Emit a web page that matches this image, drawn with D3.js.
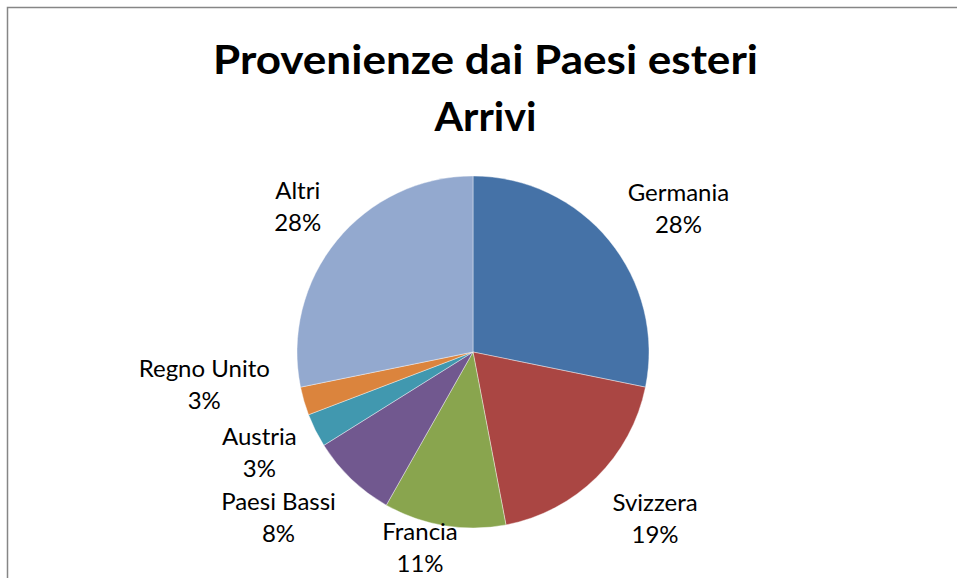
<!DOCTYPE html>
<html>
<head>
<meta charset="utf-8">
<script src="https://cdn.jsdelivr.net/npm/d3@7"></script>
<style>
  html, body { margin: 0; padding: 0; background: #fff; }
  svg { display: block; }
</style>
</head>
<body>
<svg id="chart" width="957" height="578"></svg>
<script>
// ---- data ----
const titleLines = ["Provenienze dai Paesi esteri", "Arrivi"];
const categories = ["Germania", "Svizzera", "Francia", "Paesi Bassi", "Austria", "Regno Unito", "Altri"];
const values = [28.2, 18.8, 11.2, 7.9, 3.1, 2.6, 28.2];
const percentLabels = ["28%", "19%", "11%", "8%", "3%", "3%", "28%"];

// ---- layout / style ----
const colors = ["#4572A7", "#AA4643", "#89A54E", "#71588F", "#4198AF", "#DB843D", "#93A9CF"];
const W = 957, H = 578;
const cx = 473, cy = 352, R = 176;
const labelGap = 32;          // distance of label anchor beyond pie edge
const lineGap = 32;           // line spacing of the two-line labels
const capH = 16.5;            // approx cap height of label font
// Excel "best fit" nudges for labels pushed away by neighbours / chart edge
const labelNudge = [[5, 4], [6, 1], [-13, -33], [-11, -2], [6, -3], [-6, -32], [4, 2]];
const titleWidths = [545, 102];

const svg = d3.select("#chart");

// chart area frame
svg.append("rect")
  .attr("x", 7.5).attr("y", 7.5)
  .attr("width", 970).attr("height", 620)
  .attr("fill", "#fff")
  .attr("stroke", "#868686").attr("stroke-width", 1.5);

// title
const title = svg.append("text")
  .attr("text-anchor", "middle")
  .attr("font-family", "Lato, 'Open Sans', sans-serif")
  .attr("font-weight", "bold")
  .attr("font-size", 41)
  .attr("fill", "#000");
const titleY = [74, 131];
titleLines.forEach((t, i) => {
  title.append("tspan").attr("x", 485.5).attr("y", titleY[i])
    .attr("textLength", titleWidths[i]).attr("lengthAdjust", "spacingAndGlyphs")
    .text(t);
});

// pie
const pie = d3.pie().sort(null).value(d => d.v)
  .startAngle(0).endAngle(2 * Math.PI);
const data = categories.map((c, i) => ({ c, v: values[i], p: percentLabels[i], col: colors[i] }));
const arcs = pie(data);
const arc = d3.arc().innerRadius(0).outerRadius(R);

const g = svg.append("g").attr("transform", `translate(${cx},${cy})`);
g.selectAll("path").data(arcs).enter().append("path")
  .attr("d", arc)
  .attr("fill", d => d.data.col)
  .attr("stroke", "#fff").attr("stroke-width", 0.4);

// labels
const labelG = svg.append("g")
  .attr("font-family", "Lato, 'Open Sans', sans-serif")
  .attr("font-size", 24)
  .attr("fill", "#000");

arcs.forEach((d, i) => {
  const t = labelG.append("text").attr("text-anchor", "middle");
  const l1 = t.append("tspan").text(d.data.c);
  const l2 = t.append("tspan").text(d.data.p);
  const w = Math.max(l1.node().getComputedTextLength(), l2.node().getComputedTextLength());
  const h = capH + lineGap;
  const a = (d.startAngle + d.endAngle) / 2;
  const s = Math.sin(a), c = Math.cos(a);
  const px = cx + (R + labelGap) * s;
  const py = cy - (R + labelGap) * c;
  const bx = px + s * w / 2 + labelNudge[i][0];
  const by = py - c * h / 2 + labelNudge[i][1];
  const base1 = by - h / 2 + capH;
  l1.attr("x", bx).attr("y", base1);
  l2.attr("x", bx).attr("y", base1 + lineGap);
});
</script>
</body>
</html>
